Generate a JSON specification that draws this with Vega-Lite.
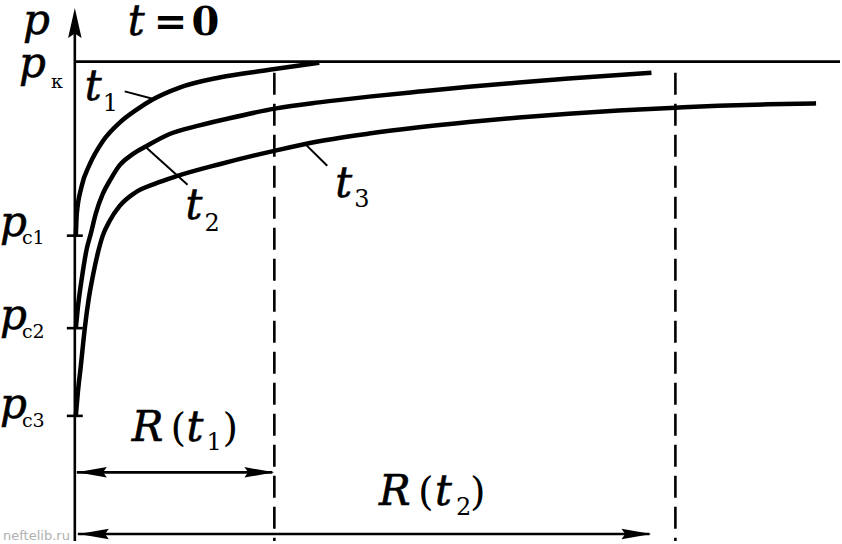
{
  "$schema": "https://vega.github.io/schema/vega-lite/v6.json",
  "width": 842,
  "height": 544,
  "padding": 0,
  "autosize": {"type": "fit", "contains": "padding"},
  "background": "white",
  "config": {"view": {"stroke": null}},
  "datasets": {
    "curves": [
      {"curve": "t1", "r": 0.01, "p": 63.7}, {"curve": "t1", "r": 0.02, "p": 68.3}, {"curve": "t1", "r": 0.067, "p": 73.9}, {"curve": "t1", "r": 0.15, "p": 78.6}, {"curve": "t1", "r": 0.28, "p": 83.4}, {"curve": "t1", "r": 0.45, "p": 87.3}, {"curve": "t1", "r": 0.62, "p": 90.0}, {"curve": "t1", "r": 0.78, "p": 92.1}, {"curve": "t1", "r": 1.05, "p": 94.6}, {"curve": "t1", "r": 1.45, "p": 96.7}, {"curve": "t1", "r": 1.95, "p": 98.3}, {"curve": "t1", "r": 2.45, "p": 99.8},
      {"curve": "t2", "r": 0.01, "p": 44.4}, {"curve": "t2", "r": 0.03, "p": 48.6}, {"curve": "t2", "r": 0.07, "p": 54.8}, {"curve": "t2", "r": 0.12, "p": 61.0}, {"curve": "t2", "r": 0.16, "p": 64.1}, {"curve": "t2", "r": 0.21, "p": 68.3}, {"curve": "t2", "r": 0.28, "p": 72.4}, {"curve": "t2", "r": 0.36, "p": 75.5}, {"curve": "t2", "r": 0.45, "p": 78.4}, {"curve": "t2", "r": 0.58, "p": 80.7}, {"curve": "t2", "r": 0.72, "p": 82.4}, {"curve": "t2", "r": 0.95, "p": 84.9}, {"curve": "t2", "r": 1.25, "p": 86.7}, {"curve": "t2", "r": 1.55, "p": 88.2}, {"curve": "t2", "r": 2.02, "p": 90.25}, {"curve": "t2", "r": 2.45, "p": 91.5}, {"curve": "t2", "r": 2.95, "p": 92.7}, {"curve": "t2", "r": 3.45, "p": 93.75}, {"curve": "t2", "r": 3.95, "p": 94.75}, {"curve": "t2", "r": 4.45, "p": 95.65}, {"curve": "t2", "r": 4.95, "p": 96.5}, {"curve": "t2", "r": 5.78, "p": 97.7},
      {"curve": "t3", "r": 0.01, "p": 26.1}, {"curve": "t3", "r": 0.03, "p": 30.9}, {"curve": "t3", "r": 0.06, "p": 36.5}, {"curve": "t3", "r": 0.10, "p": 44.4}, {"curve": "t3", "r": 0.14, "p": 50.6}, {"curve": "t3", "r": 0.18, "p": 55.2}, {"curve": "t3", "r": 0.23, "p": 60.0}, {"curve": "t3", "r": 0.28, "p": 63.7}, {"curve": "t3", "r": 0.35, "p": 66.8}, {"curve": "t3", "r": 0.45, "p": 69.9}, {"curve": "t3", "r": 0.60, "p": 72.6}, {"curve": "t3", "r": 0.80, "p": 74.5}, {"curve": "t3", "r": 1.02, "p": 76.1}, {"curve": "t3", "r": 1.45, "p": 78.6}, {"curve": "t3", "r": 2.02, "p": 81.5}, {"curve": "t3", "r": 2.45, "p": 83.4}, {"curve": "t3", "r": 2.95, "p": 85.0}, {"curve": "t3", "r": 3.45, "p": 86.3}, {"curve": "t3", "r": 3.95, "p": 87.4}, {"curve": "t3", "r": 4.45, "p": 88.35}, {"curve": "t3", "r": 4.95, "p": 89.15}, {"curve": "t3", "r": 5.45, "p": 89.8}, {"curve": "t3", "r": 6.02, "p": 90.4}, {"curve": "t3", "r": 6.45, "p": 90.8}, {"curve": "t3", "r": 6.95, "p": 91.1}, {"curve": "t3", "r": 7.43, "p": 91.3}
    ],
    "solid": [
      {"what": "p_k level", "r": 0, "r2": 7.67, "p": 100, "p2": 100},
      {"what": "p axis", "r": 0, "r2": 0, "p": 0, "p2": 106.6},
      {"what": "R(t1)", "r": 0.02, "r2": 1.98, "p": 14.32, "p2": 14.32},
      {"what": "R(t2)", "r": 0.03, "r2": 5.76, "p": 1.45, "p2": 1.45},
      {"what": "tick pc1", "r": -0.08, "r2": 0.08, "p": 63.7, "p2": 63.7},
      {"what": "tick pc2", "r": -0.08, "r2": 0.08, "p": 44.4, "p2": 44.4},
      {"what": "tick pc3", "r": -0.08, "r2": 0.08, "p": 26.1, "p2": 26.1}
    ],
    "leaders": [
      {"curve": "t1", "r": 0.50, "r2": 0.77, "p": 93.8, "p2": 92.3},
      {"curve": "t2", "r": 0.71, "r2": 1.13, "p": 82.2, "p2": 74.3},
      {"curve": "t3", "r": 2.30, "r2": 2.53, "p": 83.0, "p2": 78.3}
    ],
    "radii": [
      {"what": "R(t1)", "r": 2.0, "p": 97.7, "p2": 0},
      {"what": "R(t2)", "r": 6.02, "p": 97.7, "p2": 0}
    ],
    "heads_left": [
      {"what": "R(t1)", "r": 0.02, "p": 14.32},
      {"what": "R(t2)", "r": 0.04, "p": 1.45}
    ],
    "heads_right": [
      {"what": "R(t1)", "r": 2.0, "p": 14.32},
      {"what": "R(t2)", "r": 5.78, "p": 1.45}
    ],
    "heads_up": [
      {"what": "p axis", "r": 0, "p": 111.2}
    ],
    "italic": [
      {"t": "p", "r": -0.52, "p": 105.8},
      {"t": "t", "r": 0.53, "p": 105.6},
      {"t": "p", "r": -0.56, "p": 96.7},
      {"t": "t", "r": 0.10, "p": 92.1},
      {"t": "t", "r": 1.11, "p": 67.2},
      {"t": "t", "r": 2.61, "p": 71.8},
      {"t": "p", "r": -0.75, "p": 63.7},
      {"t": "p", "r": -0.75, "p": 44.2},
      {"t": "p", "r": -0.75, "p": 25.7},
      {"t": "R", "r": 0.57, "p": 20.95},
      {"t": "t", "r": 1.12, "p": 20.95},
      {"t": "R", "r": 3.05, "p": 7.47},
      {"t": "t", "r": 3.61, "p": 7.47}
    ],
    "upright": [
      {"t": "(", "r": 0.96, "p": 20.95},
      {"t": ")", "r": 1.48, "p": 20.95},
      {"t": "(", "r": 3.44, "p": 7.47},
      {"t": ")", "r": 3.96, "p": 7.47}
    ],
    "bold": [
      {"t": "=", "r": 0.79, "p": 105.6},
      {"t": "0", "r": 1.17, "p": 105.6}
    ],
    "sub": [
      {"t": "1", "r": 0.28, "p": 89.6},
      {"t": "2", "r": 1.30, "p": 64.7},
      {"t": "3", "r": 2.80, "p": 69.7},
      {"t": "1", "r": 1.32, "p": 18.9},
      {"t": "2", "r": 3.82, "p": 5.4}
    ],
    "subsmall": [
      {"t": "к", "r": -0.24, "p": 94.6},
      {"t": "c1", "r": -0.53, "p": 62.0},
      {"t": "c2", "r": -0.53, "p": 42.3},
      {"t": "c3", "r": -0.53, "p": 23.7}
    ],
    "mark": [
      {"t": "neftelib.ru", "r": -0.72, "p": 0.2}
    ]
  },
  "encoding": {
    "x": {"field": "r", "type": "quantitative", "scale": {"domain": [-0.75, 7.67], "nice": false, "zero": false}, "axis": null},
    "y": {"field": "p", "type": "quantitative", "scale": {"domain": [0, 112.86], "nice": false, "zero": false}, "axis": null}
  },
  "layer": [
    {
      "data": {"name": "radii"},
      "mark": {"type": "rule", "color": "black", "strokeWidth": 2.6, "strokeDash": [22, 9]},
      "encoding": {"y2": {"field": "p2"}}
    },
    {
      "data": {"name": "solid"},
      "mark": {"type": "rule", "color": "black", "strokeWidth": 2.6},
      "encoding": {"x2": {"field": "r2"}, "y2": {"field": "p2"}}
    },
    {
      "data": {"name": "leaders"},
      "mark": {"type": "rule", "color": "black", "strokeWidth": 2},
      "encoding": {"x2": {"field": "r2"}, "y2": {"field": "p2"}}
    },
    {
      "data": {"name": "curves"},
      "mark": {"type": "line", "color": "black", "strokeWidth": 4.5, "interpolate": "monotone"},
      "encoding": {"detail": {"field": "curve"}, "order": {"field": "r", "type": "quantitative"}}
    },
    {
      "data": {"name": "heads_left"},
      "mark": {"type": "point", "shape": "M0,0L2,-0.35L1.75,0L2,0.35Z", "filled": true, "size": 900, "color": "black", "opacity": 1}
    },
    {
      "data": {"name": "heads_right"},
      "mark": {"type": "point", "shape": "M0,0L-2,-0.35L-1.75,0L-2,0.35Z", "filled": true, "size": 900, "color": "black", "opacity": 1}
    },
    {
      "data": {"name": "heads_up"},
      "mark": {"type": "point", "shape": "M0,0L0.45,2L0,1.7L-0.45,2Z", "filled": true, "size": 900, "color": "black", "opacity": 1}
    },
    {
      "data": {"name": "italic"},
      "mark": {"type": "text", "font": "DejaVu Serif", "fontStyle": "italic", "fontSize": 42, "align": "left", "baseline": "alphabetic", "color": "black", "stroke": "black", "strokeWidth": 0.6},
      "encoding": {"text": {"field": "t"}}
    },
    {
      "data": {"name": "upright"},
      "mark": {"type": "text", "font": "DejaVu Serif", "fontSize": 40, "align": "left", "baseline": "alphabetic", "color": "black"},
      "encoding": {"text": {"field": "t"}}
    },
    {
      "data": {"name": "bold"},
      "mark": {"type": "text", "font": "DejaVu Serif", "fontWeight": "bold", "fontSize": 40, "align": "left", "baseline": "alphabetic", "color": "black"},
      "encoding": {"text": {"field": "t"}}
    },
    {
      "data": {"name": "sub"},
      "mark": {"type": "text", "font": "DejaVu Serif", "fontSize": 24, "align": "left", "baseline": "alphabetic", "color": "black"},
      "encoding": {"text": {"field": "t"}}
    },
    {
      "data": {"name": "subsmall"},
      "mark": {"type": "text", "font": "DejaVu Serif", "fontSize": 19, "align": "left", "baseline": "alphabetic", "color": "black"},
      "encoding": {"text": {"field": "t"}}
    },
    {
      "data": {"name": "mark"},
      "mark": {"type": "text", "font": "DejaVu Sans", "fontSize": 13, "align": "left", "baseline": "alphabetic", "color": "#b0b0b0"},
      "encoding": {"text": {"field": "t"}}
    }
  ]
}
